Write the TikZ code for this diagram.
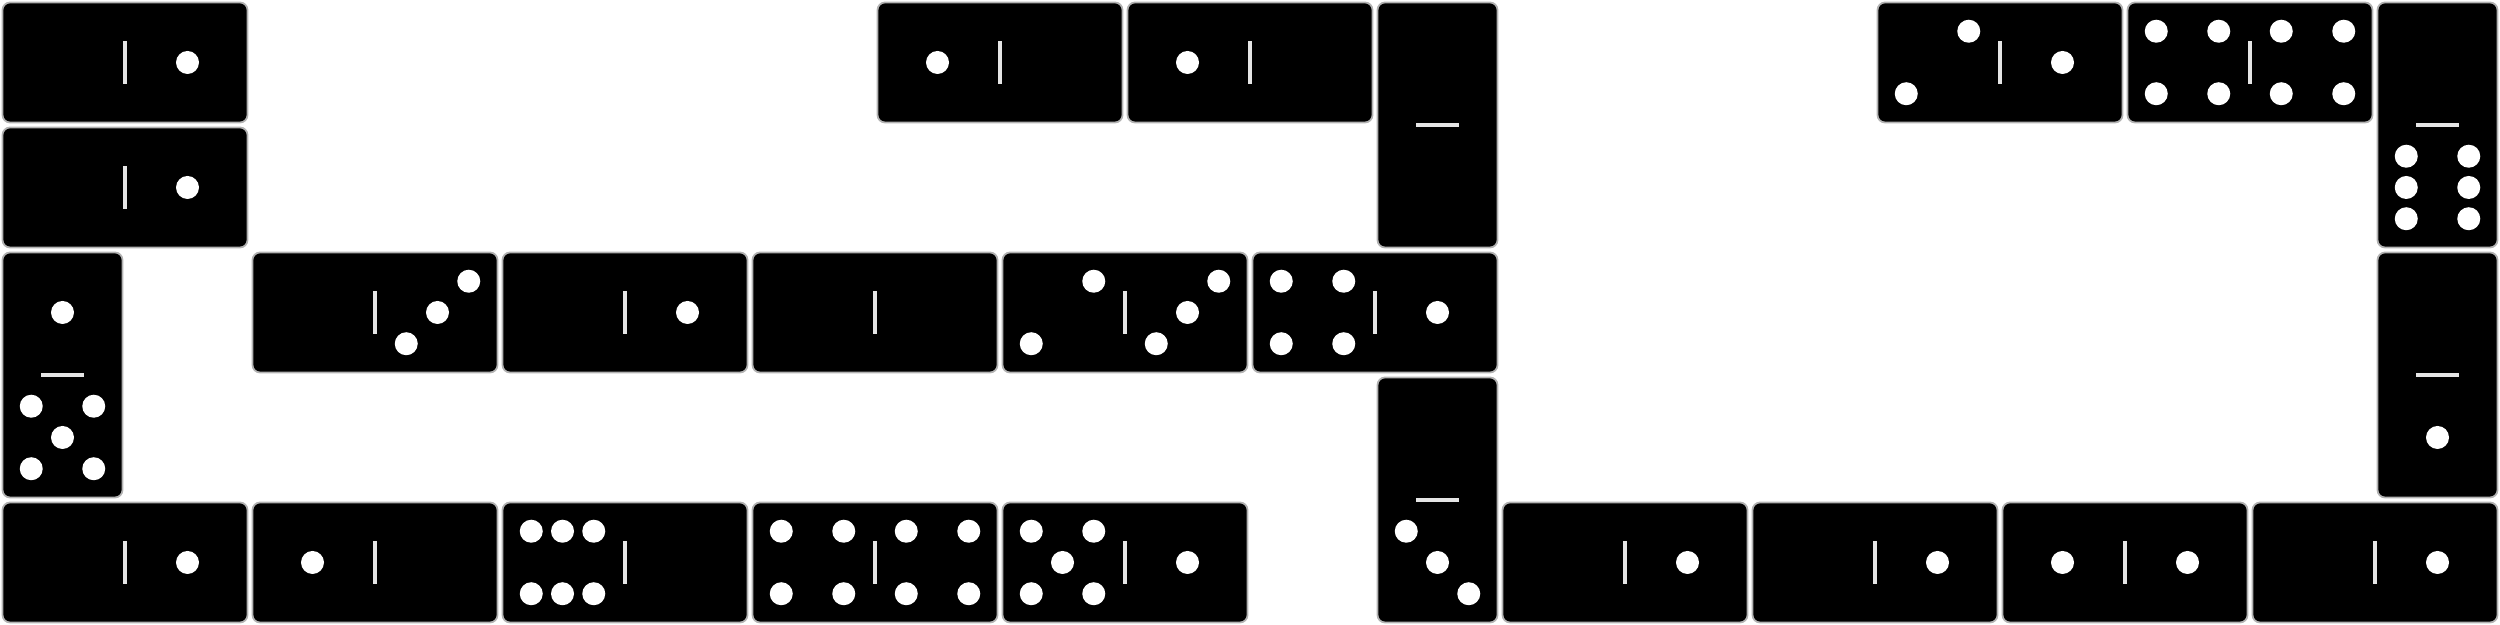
\documentclass[tikz,border=0pt]{standalone}
\newcommand\pip[2]{\fill[white] (#1,#2) circle (0.092);}
\newcommand\pips[1]{%
  \ifcase#1\relax
  \or \pip{.5}{.5}
  \or \pip{.25}{.25}\pip{.75}{.75}
  \or \pip{.25}{.25}\pip{.5}{.5}\pip{.75}{.75}
  \or \pip{.25}{.25}\pip{.75}{.25}\pip{.25}{.75}\pip{.75}{.75}
  \or \pip{.25}{.25}\pip{.75}{.25}\pip{.5}{.5}\pip{.25}{.75}\pip{.75}{.75}
  \or \pip{.25}{.25}\pip{.5}{.25}\pip{.75}{.25}\pip{.25}{.75}\pip{.5}{.75}\pip{.75}{.75}
  \fi}
\tikzset{
  tile/.style={fill=black, draw=gray!60, line width=0.4pt, rounded corners=0.06cm},
  bar/.style={draw=gray!20, line width=0.7pt},
  pics/domino/.style 2 args={code={
    \draw [tile] (0.02, 0.02) rectangle (1.98, 0.98);
    \draw [bar] (1, 0.33) -- (1, 0.67);
    \pips{#1}
    \begin{scope}[shift={(1, 0)}] \pips{#2} \end{scope}
  }}
}
\begin{document}
\begin{tikzpicture}
		\useasboundingbox (0, 0) rectangle (20, 5);
		% horizontal tiles
		\foreach \x/\y/\a/\b in {0/4/0/1, 7/4/1/0, 9/4/1/0, 15/4/2/1, 17/4/4/4, 0/3/0/1,
			2/2/0/3, 4/2/0/1, 6/2/0/0, 8/2/2/3, 10/2/4/1,
			0/0/0/1, 2/0/1/0, 4/0/6/0, 6/0/4/4, 8/0/5/1, 12/0/0/1, 14/0/0/1, 16/0/1/1, 18/0/0/1}
			\pic at (\x, \y) {domino={\a}{\b}};
		% vertical tiles, placed by their top left corner
		\foreach \x/\y/\a/\b in {11/5/0/0, 19/5/0/6, 0/3/1/5, 11/2/0/3, 19/3/0/1}
			\pic [rotate=-90] at (\x, \y) {domino={\a}{\b}};
	\end{tikzpicture}
\end{document}
